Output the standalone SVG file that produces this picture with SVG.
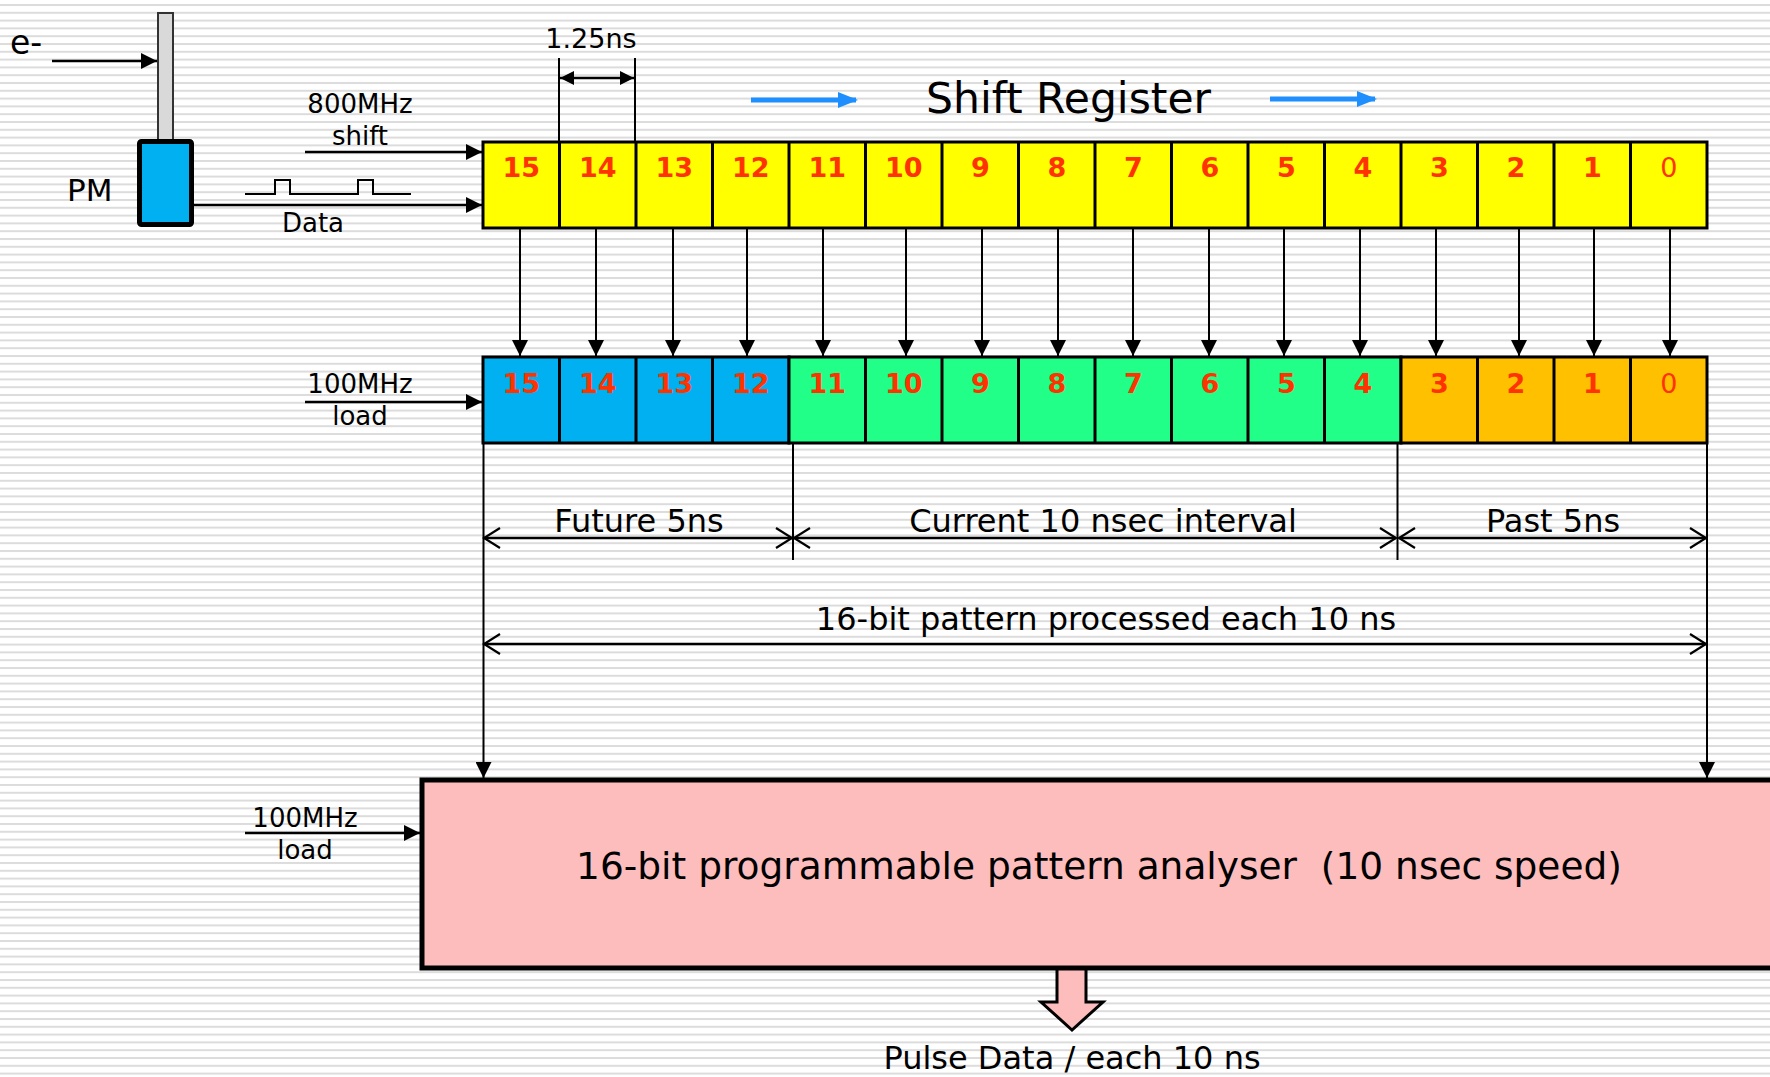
<svg xmlns="http://www.w3.org/2000/svg" width="1770" height="1077" viewBox="0 0 1770 1077">
<defs>
<pattern id="stripes" patternUnits="userSpaceOnUse" width="20" height="7.8" y="4">
<rect x="0" y="0" width="20" height="2" fill="#dcdcdc"/>
</pattern>
<marker id="af" markerUnits="userSpaceOnUse" viewBox="0 0 14 14" refX="14" refY="7" markerWidth="14" markerHeight="14" orient="auto-start-reverse">
<path d="M0,0 L14,7 L0,14 z" fill="#000"/>
</marker>
<marker id="afl" markerUnits="userSpaceOnUse" viewBox="0 0 16 16" refX="16" refY="8" markerWidth="16" markerHeight="16" orient="auto-start-reverse">
<path d="M0,0 L16,8 L0,16 z" fill="#000"/>
</marker>
<marker id="ao" markerUnits="userSpaceOnUse" viewBox="0 0 20 22" refX="18" refY="11" markerWidth="20" markerHeight="22" orient="auto-start-reverse">
<path d="M2,1 L18,11 L2,21" fill="none" stroke="#000" stroke-width="2.2"/>
</marker>
<marker id="ab" markerUnits="userSpaceOnUse" viewBox="0 0 20 20" refX="18" refY="10" markerWidth="20" markerHeight="20" orient="auto">
<path d="M0,2 L20,10 L0,18 z" fill="#1f8fff"/>
</marker>
</defs>
<style>
text{font-family:"DejaVu Sans","Liberation Sans",sans-serif;fill:#000}
.lbl{font-size:26px}
.mid{font-size:32px}
.dig{font-size:27px;font-weight:bold;fill:#ff3300;text-anchor:middle}
.dig0{font-size:27px;font-weight:normal;fill:#ff3300;text-anchor:middle}
.cell{stroke:#000;stroke-width:3}
.y{fill:#ffff00}.b{fill:#00b0f0}.g{fill:#22ff88}.o{fill:#ffc000}
.ln{stroke:#000;stroke-width:2.5;fill:none}
.thin{stroke:#000;stroke-width:2;fill:none}
.c{text-anchor:middle}
</style>
<rect width="1770" height="1077" fill="#fff"/>
<rect width="1770" height="1077" fill="url(#stripes)"/>

<g id="detector">
<rect x="158" y="13" width="15" height="128" fill="#d9d9d9" stroke="#333" stroke-width="2"/>
<rect x="139.5" y="141.5" width="52" height="83" rx="2" fill="#00b0f0" stroke="#000" stroke-width="5"/>
<text x="67" y="201" style="font-size:31px">PM</text>
<text x="10" y="54" style="font-size:33px">e-</text>
</g>

<g id="labels-top">
<text class="lbl c" x="360" y="113">800MHz</text>
<text class="lbl c" x="360" y="145">shift</text>
<text class="lbl c" x="313" y="232">Data</text>
<text class="c" x="591" y="48" style="font-size:27px">1.25ns</text>
<text x="926" y="113" style="font-size:42.5px">Shift Register</text>
<path d="M245,194 H275 V180 H290 V194 H358 V180 H373 V194 H411" class="thin"/>
</g>

<g id="shift-register">
<rect class="cell y" x="483" y="142" width="1224" height="86"/>
<g class="cell">
<line x1="559.5" y1="142" x2="559.5" y2="228"/><line x1="636" y1="142" x2="636" y2="228"/><line x1="712.5" y1="142" x2="712.5" y2="228"/><line x1="789" y1="142" x2="789" y2="228"/><line x1="865.5" y1="142" x2="865.5" y2="228"/><line x1="942" y1="142" x2="942" y2="228"/><line x1="1018.5" y1="142" x2="1018.5" y2="228"/><line x1="1095" y1="142" x2="1095" y2="228"/><line x1="1171.5" y1="142" x2="1171.5" y2="228"/><line x1="1248" y1="142" x2="1248" y2="228"/><line x1="1324.5" y1="142" x2="1324.5" y2="228"/><line x1="1401" y1="142" x2="1401" y2="228"/><line x1="1477.5" y1="142" x2="1477.5" y2="228"/><line x1="1554" y1="142" x2="1554" y2="228"/><line x1="1630.5" y1="142" x2="1630.5" y2="228"/>
</g>
<text class="dig" x="521.3" y="177">15</text><text class="dig" x="597.8" y="177">14</text><text class="dig" x="674.3" y="177">13</text><text class="dig" x="750.8" y="177">12</text><text class="dig" x="827.3" y="177">11</text><text class="dig" x="903.8" y="177">10</text><text class="dig" x="980.3" y="177">9</text><text class="dig" x="1056.8" y="177">8</text><text class="dig" x="1133.3" y="177">7</text><text class="dig" x="1209.8" y="177">6</text><text class="dig" x="1286.3" y="177">5</text><text class="dig" x="1362.8" y="177">4</text><text class="dig" x="1439.3" y="177">3</text><text class="dig" x="1515.8" y="177">2</text><text class="dig" x="1592.3" y="177">1</text><text class="dig0" x="1668.8" y="177">0</text>
</g>

<g id="load-register">
<rect class="cell b" x="483" y="357" width="306" height="86"/>
<rect class="cell g" x="789" y="357" width="612" height="86"/>
<rect class="cell o" x="1401" y="357" width="306" height="86"/>
<g class="cell">
<line x1="559.5" y1="357" x2="559.5" y2="443"/><line x1="636" y1="357" x2="636" y2="443"/><line x1="712.5" y1="357" x2="712.5" y2="443"/><line x1="865.5" y1="357" x2="865.5" y2="443"/><line x1="942" y1="357" x2="942" y2="443"/><line x1="1018.5" y1="357" x2="1018.5" y2="443"/><line x1="1095" y1="357" x2="1095" y2="443"/><line x1="1171.5" y1="357" x2="1171.5" y2="443"/><line x1="1248" y1="357" x2="1248" y2="443"/><line x1="1324.5" y1="357" x2="1324.5" y2="443"/><line x1="1477.5" y1="357" x2="1477.5" y2="443"/><line x1="1554" y1="357" x2="1554" y2="443"/><line x1="1630.5" y1="357" x2="1630.5" y2="443"/>
</g>
<text class="dig" x="521.3" y="393">15</text><text class="dig" x="597.8" y="393">14</text><text class="dig" x="674.3" y="393">13</text><text class="dig" x="750.8" y="393">12</text><text class="dig" x="827.3" y="393">11</text><text class="dig" x="903.8" y="393">10</text><text class="dig" x="980.3" y="393">9</text><text class="dig" x="1056.8" y="393">8</text><text class="dig" x="1133.3" y="393">7</text><text class="dig" x="1209.8" y="393">6</text><text class="dig" x="1286.3" y="393">5</text><text class="dig" x="1362.8" y="393">4</text><text class="dig" x="1439.3" y="393">3</text><text class="dig" x="1515.8" y="393">2</text><text class="dig" x="1592.3" y="393">1</text><text class="dig0" x="1668.8" y="393">0</text>
<text class="lbl c" x="360" y="393">100MHz</text>
<text class="lbl c" x="360" y="425">load</text>
</g>

<g id="interval-labels">
<text class="mid c" x="639" y="532">Future 5ns</text>
<text class="mid c" x="1103" y="532">Current 10 nsec interval</text>
<text class="mid c" x="1553" y="532">Past 5ns</text>
<text class="mid c" x="1106" y="630">16-bit pattern processed each 10 ns</text>
</g>

<g id="output-arrow">
<polygon points="1057,966 1086,966 1086,1002 1103,1002 1072,1030 1041,1002 1057,1002" fill="#fdbdbd" stroke="#000" stroke-width="3"/>
</g>

<g id="analyser">
<rect x="422" y="780" width="1400" height="188" fill="#fdbdbd" stroke="#000" stroke-width="5"/>
<text x="1099" y="879" class="c" style="font-size:37.5px" xml:space="preserve">16-bit programmable pattern analyser  (10 nsec speed)</text>
<text class="lbl c" x="305" y="827">100MHz</text>
<text class="lbl c" x="305" y="859">load</text>
</g>

<text class="mid c" x="1072" y="1069">Pulse Data / each 10 ns</text>

<g id="connectors">
<line class="ln" x1="52" y1="61" x2="157" y2="61" marker-end="url(#afl)"/>
<line class="ln" x1="305" y1="152" x2="482" y2="152" marker-end="url(#afl)"/>
<line class="ln" x1="193" y1="205" x2="482" y2="205" marker-end="url(#afl)"/>
<line class="ln" x1="305" y1="402" x2="482" y2="402" marker-end="url(#afl)"/>
<line class="ln" x1="245" y1="833" x2="420" y2="833" marker-end="url(#afl)"/>
<line class="thin" x1="559" y1="58" x2="559" y2="142"/>
<line class="thin" x1="635" y1="58" x2="635" y2="142"/>
<line class="ln" x1="560" y1="78" x2="634" y2="78" marker-start="url(#af)" marker-end="url(#af)"/>
<line x1="751" y1="100" x2="856" y2="100" stroke="#1f8fff" stroke-width="5" marker-end="url(#ab)"/>
<line x1="1270" y1="99" x2="1375" y2="99" stroke="#1f8fff" stroke-width="5" marker-end="url(#ab)"/>
<g class="thin">
<line x1="520" y1="228" x2="520" y2="356" marker-end="url(#afl)"/>
<line x1="596" y1="228" x2="596" y2="356" marker-end="url(#afl)"/>
<line x1="673" y1="228" x2="673" y2="356" marker-end="url(#afl)"/>
<line x1="747" y1="228" x2="747" y2="356" marker-end="url(#afl)"/>
<line x1="823" y1="228" x2="823" y2="356" marker-end="url(#afl)"/>
<line x1="906" y1="228" x2="906" y2="356" marker-end="url(#afl)"/>
<line x1="982" y1="228" x2="982" y2="356" marker-end="url(#afl)"/>
<line x1="1058" y1="228" x2="1058" y2="356" marker-end="url(#afl)"/>
<line x1="1133" y1="228" x2="1133" y2="356" marker-end="url(#afl)"/>
<line x1="1209" y1="228" x2="1209" y2="356" marker-end="url(#afl)"/>
<line x1="1284" y1="228" x2="1284" y2="356" marker-end="url(#afl)"/>
<line x1="1360" y1="228" x2="1360" y2="356" marker-end="url(#afl)"/>
<line x1="1436" y1="228" x2="1436" y2="356" marker-end="url(#afl)"/>
<line x1="1519" y1="228" x2="1519" y2="356" marker-end="url(#afl)"/>
<line x1="1594" y1="228" x2="1594" y2="356" marker-end="url(#afl)"/>
<line x1="1670" y1="228" x2="1670" y2="356" marker-end="url(#afl)"/>
</g>
<line class="thin" x1="483.5" y1="443" x2="483.5" y2="778" marker-end="url(#afl)"/>
<line class="thin" x1="1707" y1="443" x2="1707" y2="778" marker-end="url(#afl)"/>
<line class="thin" x1="793" y1="443" x2="793" y2="560"/>
<line class="thin" x1="1397.5" y1="443" x2="1397.5" y2="560"/>
<line class="ln" x1="484" y1="538" x2="792" y2="538" marker-start="url(#ao)" marker-end="url(#ao)"/>
<line class="ln" x1="794" y1="538" x2="1396" y2="538" marker-start="url(#ao)" marker-end="url(#ao)"/>
<line class="ln" x1="1399" y1="538" x2="1706" y2="538" marker-start="url(#ao)" marker-end="url(#ao)"/>
<line class="ln" x1="484" y1="644" x2="1706" y2="644" marker-start="url(#ao)" marker-end="url(#ao)"/>
</g>
</svg>
